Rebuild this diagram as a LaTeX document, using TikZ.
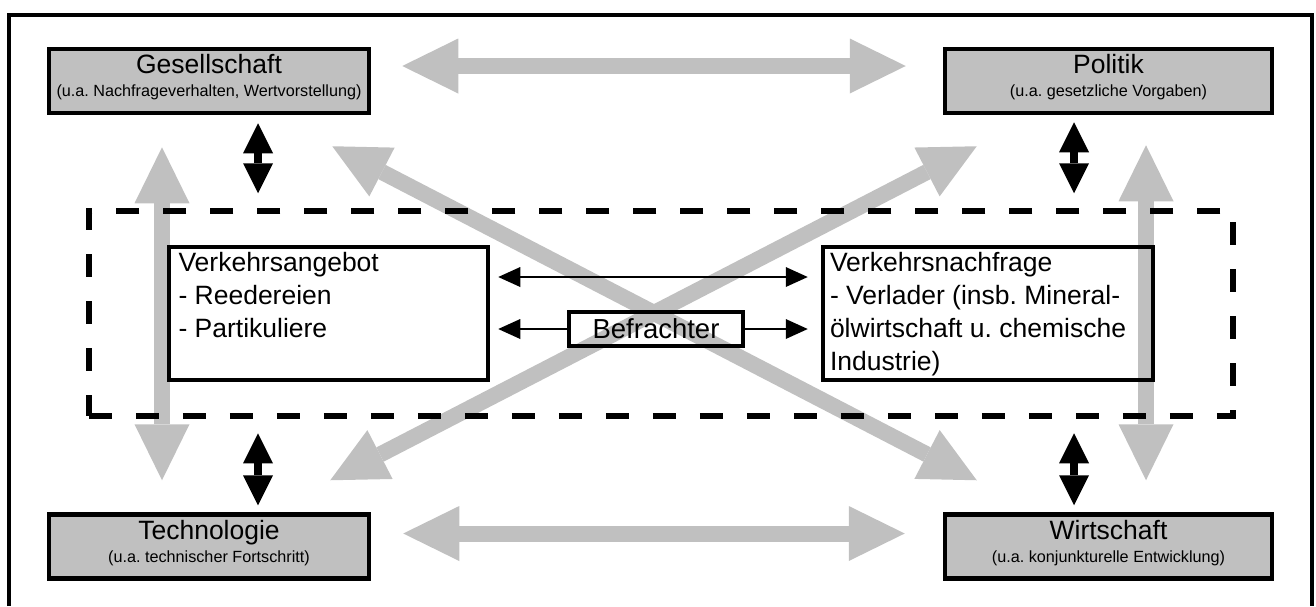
\documentclass[tikz,border=0pt]{standalone}
\usepackage{fontspec}
\setmainfont{Liberation Sans}
\usepackage{tikz}
\usetikzlibrary{arrows.meta, positioning, fit, backgrounds}
\definecolor{silvergray}{RGB}{192, 192, 192}
\newcommand{\bigsize}{\fontsize{26.5}{33}\selectfont}
\newcommand{\smallsize}{\fontsize{16.2}{23}\selectfont}
\frenchspacing

\begin{document}
\begin{tikzpicture}[
  x=1pt, y=-1pt,
  factor/.style={draw, line width=4.5pt, fill=silvergray, minimum height=64pt,
                 inner sep=0pt},
  market/.style={draw, line width=4.5pt, inner sep=0pt, font=\bigsize},
  marketframe/.style={draw, line width=6pt, dash pattern=on 23pt off 24pt},
  fatarrow/.style={{Triangle[length=56pt, width=55pt, line width=0pt]}-{Triangle[length=56pt, width=55pt, line width=0pt]},
                   line width=16pt, color=silvergray},
  darkarrow/.style={{Triangle[length=30pt, width=30pt, line width=0pt]}-{Triangle[length=30pt, width=30pt, line width=0pt]},
                    line width=8pt},
  linkarrow/.style={-{Triangle[length=22pt, width=20pt, line width=0pt]}, line width=1.6pt},
  linkboth/.style={{Triangle[length=22pt, width=20pt, line width=0pt]}-{Triangle[length=22pt, width=20pt, line width=0pt]},
                   line width=1.6pt}
]
  \useasboundingbox (0,0) rectangle (1316,606);
  \draw[line width=4pt] (8.5,606) -- (8.5,14.5) -- (1312,14.5) -- (1312,606);

  \node[factor, minimum width=320pt] (ges) at (209,81)
    {\parbox[c][53pt][t]{316pt}{\centering\bigsize Gesellschaft\\\smallsize (u.a. Nachfrageverhalten, Wertvorstellung)}};
  \node[factor, minimum width=327pt, right=571.5pt of ges] (pol)
    {\parbox[c][53pt][t]{316pt}{\centering\bigsize Politik\\\smallsize (u.a. gesetzliche Vorgaben)}};
  \node[factor, minimum width=320pt, below=397pt of ges] (tech)
    {\parbox[c][53pt][t]{316pt}{\centering\bigsize Technologie\\\smallsize (u.a. technischer Fortschritt)}};
  \node[factor, minimum width=327pt, below=397pt of pol] (wirt)
    {\parbox[c][53pt][t]{316pt}{\centering\bigsize Wirtschaft\\\smallsize (u.a. konjunkturelle Entwicklung)}};

  \node[market, minimum width=319pt, minimum height=133pt] (angebot) at (328.5,313.5)
    {\parbox[c][122pt][t]{300pt}{Verkehrsangebot\\- Reedereien\\- Partikuliere}};
  \node[market, minimum width=330pt, minimum height=133pt] (nachfrage) at (988,313.5)
    {\parbox[c][122pt][t]{316pt}{Verkehrsnachfrage\\- Verlader (insb. Mineral-\\ölwirtschaft u. chemische\\Industrie)}};
  \node[market, minimum width=174pt, minimum height=34pt, font=\fontsize{27.5}{33}\selectfont] (befr) at (656,329) {Befrachter};
  \node[marketframe, fit=(angebot) (nachfrage), inner xsep=78pt, inner ysep=34pt] (markt) {};

  \begin{scope}[on background layer]
    \draw[fatarrow] ([shift={(31,-15)}]ges.east) -- ([shift={(-37,-15)}]pol.west);
    \draw[fatarrow] ([shift={(32,-13)}]tech.east) -- ([shift={(-38,-13)}]wirt.west);
    \draw[fatarrow] ([shift={(-47,32)}]ges.south) -- ([shift={(-47,-32)}]tech.north);
    \draw[fatarrow] ([shift={(37.5,30)}]pol.south) -- ([shift={(37.5,-32)}]wirt.north);
    \draw[fatarrow] ([shift={(-39,31)}]ges.south east) -- ([shift={(34,-32)}]wirt.north west);
    \draw[fatarrow] ([shift={(-41,-32)}]tech.north east) -- ([shift={(34,31)}]pol.south west);
  \end{scope}

  \draw[darkarrow] ([shift={(49,8)}]ges.south) -- ([shift={(49,78)}]ges.south);
  \draw[darkarrow] ([shift={(-34.5,7)}]pol.south) -- ([shift={(-34.5,78)}]pol.south);
  \draw[darkarrow] ([shift={(49,-79)}]tech.north) -- ([shift={(49,-7)}]tech.north);
  \draw[darkarrow] ([shift={(-34.5,-79)}]wirt.north) -- ([shift={(-34.5,-7)}]wirt.north);

  \draw[linkboth] ([shift={(8,-36.5)}]angebot.east) -- ([shift={(-13,-36.5)}]nachfrage.west);
  \draw[linkarrow, shorten >=8pt] (befr.west) -- (angebot.east |- befr.west);
  \draw[linkarrow, shorten >=13pt] (befr.east) -- (nachfrage.west |- befr.east);
\end{tikzpicture}
\end{document}
